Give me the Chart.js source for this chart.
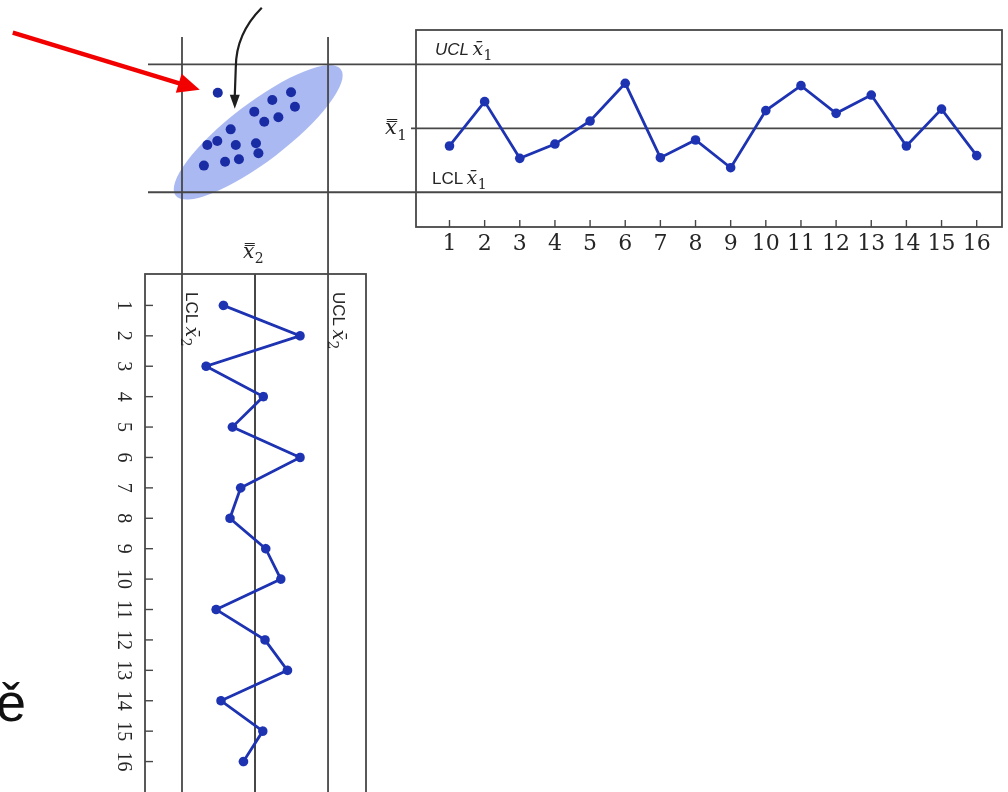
<!DOCTYPE html>
<html>
<head>
<meta charset="utf-8">
<script src="https://cdn.jsdelivr.net/npm/chart.js@4/dist/chart.umd.min.js"></script>
<style>
  html, body { margin: 0; padding: 0; background: #fff; width: 1008px; height: 792px; overflow: hidden; }
  body { position: relative; }
  canvas { position: absolute; display: block; }
  #joint { left: 0; top: 0; }
  #chartX1 { left: 370px; top: 0; }
  /* the x̄2 chart is laid out like the x̄1 chart and turned a quarter turn clockwise */
  #chartX2 { left: 0; top: 0; transform-origin: 0 0; transform: translate(400px, 240px) rotate(90deg); }
  #slideText { position: absolute; left: -4px; top: 675px; font: 54px "Liberation Sans", Arial, sans-serif; color: #111; line-height: 1; white-space: nowrap; }
</style>
</head>
<body>
<canvas id="joint" width="1008" height="792"></canvas>
<canvas id="chartX1" width="638" height="275"></canvas>
<canvas id="chartX2" width="560" height="300"></canvas>
<div id="slideText">ě</div>
<script>
// ---- data ---------------------------------------------------------------
// sample numbers and their tick labels
const sampleNumbers = [1, 2, 3, 4, 5, 6, 7, 8, 9, 10, 11, 12, 13, 14, 15, 16];
const tickLabels = ['1', '2', '3', '4', '5', '6', '7', '8', '9', '10', '11', '12', '13', '14', '15', '16'];

// subgroup means, in standard-error units about the centre line
const xbar1Values = [-0.83, 1.25, -1.41, -0.74, 0.34, 2.11, -1.38, -0.55, -1.85, 0.83, 2.00, 0.70, 1.56, -0.83, 0.90, -1.28];
const xbar2Values = [-1.30, 1.85, -2.01, 0.34, -0.93, 1.85, -0.59, -1.03, 0.44, 1.06, -1.60, 0.41, 1.33, -1.40, 0.32, -0.48];

// joint (x̄2, x̄1) observations shown inside the control ellipse
const jointX2 = [-1.53, 1.48, 0.71, 1.64, -0.03, 0.96, 0.38, -1.00, -1.55, -1.96, -0.79, 0.04, 0.14, -0.66, -1.23, -2.10];
const jointX1 = [1.67, 1.69, 1.33, 1.01, 0.78, 0.52, 0.31, -0.05, -0.60, -0.78, -0.78, -0.70, -1.17, -1.45, -1.57, -1.75];

// control limits (same standardized units for both variables)
const UCL = 3;
const CENTER = 0;
const LCL = -3;

// ---- shared axis ranges ---------------------------------------------------
const rangeX1 = { min: -4.63, max: 4.61 };
const rangeX2 = { min: -4.52, max: 4.56 };

// ---- styling ------------------------------------------------------------
const LINE_BLUE = '#1d33b2';
const DOT_BLUE = '#1a2ca4';
const RULE = '#474747';
const INK = '#262626';

// control ellipse, centred in data units, axes in pixels
const ellipseStyle = { cx: 0.13, cy: -0.19, semiMajor: 104, semiMinor: 29, angleDeg: -37.4, fill: 'rgba(118,142,234,0.62)' };
// limit lines that run across the whole figure
const limitLineSpan = { left: 148, right: 1002, top: 37, bottom: 792 };

// "UCL x̄1" style caption: word, barred x and subscript
function drawLimitName(ctx, x, y, word, italic, sub, size) {
  ctx.save();
  ctx.textAlign = 'left';
  ctx.textBaseline = 'alphabetic';
  ctx.font = (italic ? 'italic ' : '') + size + 'px "Liberation Sans"';
  ctx.fillText(word, x, y);
  let w = ctx.measureText(word).width + size * 0.2;
  ctx.font = 'italic ' + (size + 2) + 'px "DejaVu Serif"';
  ctx.fillText('x\u0304', x + w, y);
  w += ctx.measureText('x').width + 0.5;
  ctx.font = Math.round(size * 0.8) + 'px "DejaVu Serif"';
  ctx.fillText(sub, x + w, y + size * 0.3);
  ctx.restore();
}

// grand-mean symbol x̿ with subscript
function drawGrandMean(ctx, x, y, sub, size) {
  ctx.save();
  ctx.textAlign = 'left';
  ctx.textBaseline = 'alphabetic';
  ctx.font = 'italic ' + size + 'px "DejaVu Serif"';
  ctx.fillText('x\u033F', x, y);
  const w = ctx.measureText('x').width + 0.5;
  ctx.font = Math.round(size * 0.72) + 'px "DejaVu Serif"';
  ctx.fillText(sub, x + w, y + size * 0.25);
  ctx.restore();
}

function arrowHead(ctx, tipX, tipY, dirX, dirY, len, half) {
  const n = Math.hypot(dirX, dirY);
  const ux = dirX / n, uy = dirY / n;
  const bx = tipX - ux * len, by = tipY - uy * len;
  ctx.beginPath();
  ctx.moveTo(tipX, tipY);
  ctx.lineTo(bx - uy * half, by + ux * half);
  ctx.lineTo(bx + uy * half, by - ux * half);
  ctx.closePath();
  ctx.fill();
}

// ---- joint chart: ellipse, long control-limit lines, pointers -------------
const jointDecor = {
  id: 'jointDecor',
  beforeDatasetsDraw(chart) {
    const { ctx, scales: { x, y } } = chart;
    ctx.save();
    // control ellipse
    ctx.fillStyle = ellipseStyle.fill;
    ctx.beginPath();
    ctx.ellipse(x.getPixelForValue(ellipseStyle.cx), y.getPixelForValue(ellipseStyle.cy),
      ellipseStyle.semiMajor, ellipseStyle.semiMinor, ellipseStyle.angleDeg * Math.PI / 180, 0, Math.PI * 2);
    ctx.fill();
    // control limits of x̄1 (horizontal) and x̄2 (vertical)
    ctx.strokeStyle = RULE;
    ctx.lineWidth = 1.8;
    [UCL, LCL].forEach(v => {
      const py = y.getPixelForValue(v);
      ctx.beginPath(); ctx.moveTo(limitLineSpan.left, py); ctx.lineTo(limitLineSpan.right, py); ctx.stroke();
      const px = x.getPixelForValue(v);
      ctx.beginPath(); ctx.moveTo(px, limitLineSpan.top); ctx.lineTo(px, limitLineSpan.bottom); ctx.stroke();
    });
    // x̿2 caption above the x̄2 chart
    ctx.fillStyle = INK;
    drawGrandMean(ctx, x.getPixelForValue(CENTER) - 12, 258, '2', 20);
    ctx.restore();
  },
  afterDatasetsDraw(chart) {
    const { ctx, scales: { x, y } } = chart;
    // pointers aimed at the first joint observation, the one outside the ellipse
    const ox = x.getPixelForValue(jointX2[0]);
    const oy = y.getPixelForValue(jointX1[0]);
    ctx.save();
    // red pointer
    const tip = [ox - 18, oy - 3], tail = [ox - 205, oy - 60];
    ctx.strokeStyle = '#f20000';
    ctx.fillStyle = '#f20000';
    ctx.lineWidth = 4.5;
    ctx.lineCap = 'butt';
    const dx = tip[0] - tail[0], dy = tip[1] - tail[1], d = Math.hypot(dx, dy);
    ctx.beginPath();
    ctx.moveTo(tail[0], tail[1]);
    ctx.lineTo(tip[0] - dx / d * 18, tip[1] - dy / d * 18);
    ctx.stroke();
    arrowHead(ctx, tip[0], tip[1], dx, dy, 22, 10);
    // black curved pointer
    ctx.strokeStyle = '#1e1e1e';
    ctx.fillStyle = '#1e1e1e';
    ctx.lineWidth = 2.2;
    const s = [ox + 44, oy - 85];
    const e = [ox + 17, oy + 3];
    ctx.beginPath();
    ctx.moveTo(s[0], s[1]);
    ctx.bezierCurveTo(s[0] - 16, s[1] + 16, e[0] + 1, s[1] + 36, e[0] + 1, s[1] + 60);
    ctx.lineTo(e[0], e[1]);
    ctx.stroke();
    arrowHead(ctx, e[0], e[1] + 13, 0, 1, 14, 5);
    ctx.restore();
  }
};

new Chart(document.getElementById('joint'), {
  type: 'scatter',
  data: {
    datasets: [{
      data: jointX2.map((v, i) => ({ x: v, y: jointX1[i] })),
      pointRadius: 5,
      pointBackgroundColor: DOT_BLUE,
      pointBorderWidth: 0
    }]
  },
  options: {
    responsive: false,
    animation: false,
    events: [],
    layout: { padding: { left: 145, right: 642, top: 30, bottom: 565 } },
    scales: {
      x: { type: 'linear', display: false, min: rangeX2.min, max: rangeX2.max },
      y: { type: 'linear', display: false, min: rangeX1.min, max: rangeX1.max }
    },
    plugins: { legend: { display: false }, tooltip: { enabled: false } }
  },
  plugins: [jointDecor]
});

// ---- Shewhart x̄ charts ----------------------------------------------------
const controlFrame = {
  id: 'controlFrame',
  beforeDatasetsDraw(chart, args, o) {
    const { ctx, chartArea: a, scales: { x, y } } = chart;
    ctx.save();
    ctx.strokeStyle = RULE;
    ctx.lineWidth = 1.8;
    ctx.strokeRect(a.left, a.top, a.right - a.left, a.bottom - a.top);
    const yc = y.getPixelForValue(CENTER);
    ctx.beginPath(); ctx.moveTo(a.left - o.centerStub, yc); ctx.lineTo(a.right, yc); ctx.stroke();
    // sample tick marks inside the frame
    ctx.lineWidth = 1.4;
    x.ticks.forEach(t => {
      const px = x.getPixelForValue(t.value);
      ctx.beginPath(); ctx.moveTo(px, a.bottom); ctx.lineTo(px, a.bottom - o.tickLen); ctx.stroke();
    });
    ctx.fillStyle = INK;
    drawLimitName(ctx, a.left + o.uclInset, y.getPixelForValue(UCL) - o.uclLift, 'UCL', o.uclItalic, o.sub, o.fontSize);
    drawLimitName(ctx, a.left + o.lclInset, y.getPixelForValue(LCL) - o.lclLift, 'LCL', false, o.sub, o.fontSize);
    if (o.centerName) drawGrandMean(ctx, a.left - 31, yc + 6, o.sub, 21);
    ctx.restore();
  }
};

function controlChart(canvasId, values, xRange, yRange, frame, tickFont, tickPad, pad) {
  return new Chart(document.getElementById(canvasId), {
    type: 'line',
    data: {
      datasets: [{
        data: sampleNumbers.map((n, i) => ({ x: n, y: values[i] })),
        borderColor: LINE_BLUE,
        borderWidth: 2.8,
        pointRadius: 4.8,
        pointBackgroundColor: LINE_BLUE,
        pointBorderWidth: 0,
        tension: 0
      }]
    },
    options: {
      responsive: false,
      animation: false,
      events: [],
      layout: { padding: pad },
      scales: {
        x: {
          type: 'linear',
          min: xRange.min,
          max: xRange.max,
          afterBuildTicks: axis => { axis.ticks = sampleNumbers.map(v => ({ value: v })); },
          afterFit: axis => { axis.height = 45; },
          grid: { drawOnChartArea: false, drawTicks: false },
          border: { display: false },
          ticks: {
            autoSkip: false,
            maxRotation: 0,
            padding: tickPad,
            color: '#262626',
            font: tickFont,
            callback: (v, i) => tickLabels[i]
          }
        },
        y: { type: 'linear', display: false, min: yRange.min, max: yRange.max }
      },
      plugins: { legend: { display: false }, tooltip: { enabled: false }, controlFrame: frame }
    },
    plugins: [controlFrame]
  });
}

// x̄1 chart, across the top
controlChart('chartX1', xbar1Values, { min: 0.047, max: 16.72 }, rangeX1,
  { centerStub: 5, tickLen: 7, uclInset: 19, uclLift: 9, uclItalic: true, lclInset: 16, lclLift: 8, sub: '1', fontSize: 17, centerName: true },
  { family: 'DejaVu Serif', size: 22 }, 4,
  { left: 46, right: 6, top: 30, bottom: 3 });

// x̄2 chart, down the left side
controlChart('chartX2', xbar2Values, { min: -0.033, max: 17.106 }, rangeX2,
  { centerStub: 0, tickLen: 8, uclInset: 18, uclLift: 5, uclItalic: false, lclInset: 18, lclLift: 4, sub: '2', fontSize: 17, centerName: false },
  { family: 'Liberation Serif', size: 20 }, 10,
  { left: 34, right: 0, top: 34, bottom: 0 });
</script>
</body>
</html>
